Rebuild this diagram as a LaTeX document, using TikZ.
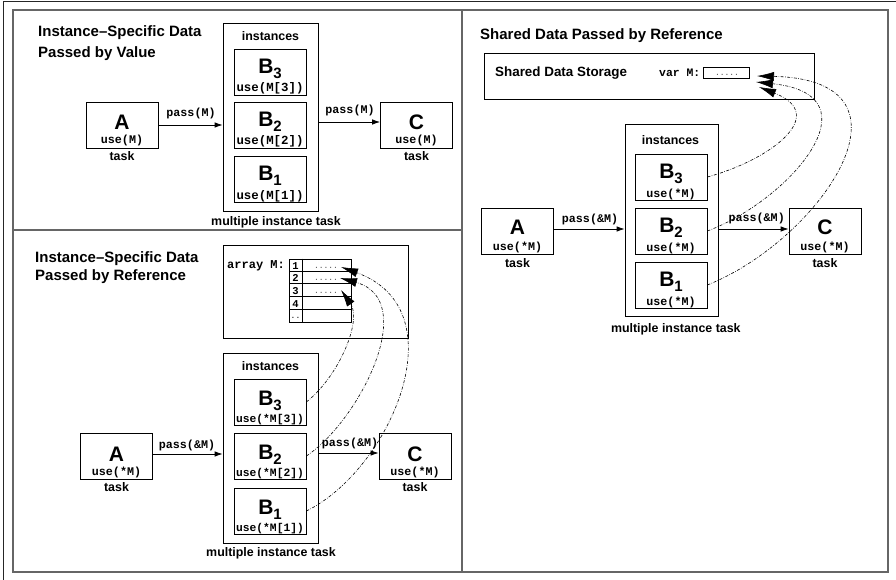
\documentclass[tikz,border=0pt]{standalone}
\usepackage{fontspec}
\setmainfont{Liberation Sans}
\newfontfamily\codefont{Liberation Mono}
\usetikzlibrary{arrows.meta,calc}
\tikzset{
  panel/.style={draw=black!60, line width=1.2pt},
  box/.style={draw, line width=0.8pt, inner sep=0pt, minimum width=72pt, minimum height=46pt},
  big/.style={font=\fontsize{21}{21}\selectfont\bfseries, inner sep=0pt, anchor=base},
  code/.style={font=\codefont\fontsize{11.7}{11.7}\selectfont\bfseries, inner sep=0pt, anchor=base},
  lbl/.style={font=\fontsize{12.4}{12.4}\selectfont\bfseries, inner sep=0pt, anchor=base},
  ttl/.style={font=\fontsize{15}{15}\selectfont\bfseries, inner sep=0pt, anchor=base west},
  arr/.style={-{Latex[length=8pt,width=5.5pt]}, line width=0.8pt},
  refarr/.style={-{Latex[length=17pt,width=9pt]}, line width=0.6pt, dash pattern=on 3pt off 1.5pt on 0.6pt off 1.5pt},
  dots/.style={font=\codefont\fontsize{8}{8}\selectfont, text=black!70, inner sep=0pt, anchor=base},
  cell/.style={font=\codefont\fontsize{10.5}{10.5}\selectfont\bfseries, inner sep=0pt, anchor=base},
}
\newcommand\Bsub[1]{B\raisebox{-5pt}{\fontsize{15}{15}\selectfont #1}}
\begin{document}
\begin{tikzpicture}[x=1pt,y=-1pt]
\useasboundingbox (0,0) rectangle (896,580);
% outer frame
\draw[black!85, line width=1.3pt] (3.5,580) -- (3.5,1.7) -- (896,1.7);
% panels
\draw[panel] (13,10) rectangle (888,572);
\draw[panel] (462,10) -- (462,572);
\draw[panel] (13,230) -- (462,230);

%================ top-left panel =================
\node[ttl] (t1a) at (38,37) {Instance--Specific Data};
\node[ttl] (t1b) at (38,58) {Passed by Value};
\node[box, minimum width=95pt, minimum height=188pt] (I1) at (270.5,117) {};
\node[lbl] (I1l) at (270.5,41) {instances};
\node[box] (B3a) at (270,72) {};
\node[box] (B2a) at (270,125) {};
\node[box] (B1a) at (270,179) {};
\node[big] (B3at) at (270,74) {\Bsub{3}};
\node[big] (B2at) at (270,127) {\Bsub{2}};
\node[big] (B1at) at (270,181) {\Bsub{1}};
\node[code, font=\codefont\fontsize{12.4}{12.4}\selectfont\bfseries] (B3au) at (270,92) {use(M[3])};
\node[code, font=\codefont\fontsize{12.4}{12.4}\selectfont\bfseries] (B2au) at (270,145) {use(M[2])};
\node[code, font=\codefont\fontsize{12.4}{12.4}\selectfont\bfseries] (B1au) at (270,199) {use(M[1])};
\node[box] (Aa) at (122,125) {};
\node[big] (Aat) at (122,130) {A};
\node[code] (Aau) at (122,144) {use(M)};
\node[lbl] (Aal) at (122,161) {task};
\node[box] (Ca) at (416.5,125) {};
\node[big] (Cat) at (416.5,130) {C};
\node[code] (Cau) at (416.5,144) {use(M)};
\node[lbl] (Cal) at (416.5,161) {task};
\node[lbl] (I1m) at (276,225) {multiple instance task};
\draw[arr] (Aa.east) -- (I1.west |- Aa.east);
\node[code] (p1) at (191,117) {pass(M)};
\draw[arr] ($(I1.east |- Ca.west)+(0,-3)$) -- ($(Ca.west)+(0,-3)$);
\node[code] (p2) at (350,114) {pass(M)};

%================ bottom-left panel =================
\node[ttl] (t2a) at (35,262) {Instance--Specific Data};
\node[ttl] (t2b) at (35,280) {Passed by Reference};
\node[box, minimum width=185pt, minimum height=93pt] (arrbox) at (315.5,291.5) {};
\node[code, font=\codefont\fontsize{12}{12}\selectfont\bfseries, anchor=base west] (arrl) at (227,268) {array M:};
\node[draw, line width=0.8pt, inner sep=0pt, minimum width=62pt, minimum height=63.3pt, anchor=north west] (tab) at (289,258.5) {};
\draw[line width=0.8pt] (302,258.5) -- (302,321.8);
\foreach \k in {1,2,3,4} { \draw[line width=0.8pt] (289,258.5+12.66*\k) -- (351,258.5+12.66*\k); }
\node[cell] (c1) at (295.5,269) {1};
\node[cell] (c2) at (295.5,281.7) {2};
\node[cell] (c3) at (295.5,294.3) {3};
\node[cell] (c4) at (295.5,307) {4};
\node[cell, font=\codefont\fontsize{8}{8}\selectfont] (c5) at (295.5,318) {..};
\node[dots] (d1) at (326,268) {.....};
\node[dots] (d2) at (326,280.7) {.....};
\node[dots] (d3) at (326,293.3) {.....};
\coordinate (r1) at (341,267);
\coordinate (r2) at (340,278);
\coordinate (r3) at (341,290);

\node[box, minimum width=95pt, minimum height=190pt] (I2) at (270.5,448) {};
\node[lbl] (I2l) at (270.5,370) {instances};
\node[box] (B3b) at (270,402) {};
\node[box] (B2b) at (270,456) {};
\node[box] (B1b) at (270,511) {};
\node[big] (B3bt) at (270,405) {\Bsub{3}};
\node[big] (B2bt) at (270,459) {\Bsub{2}};
\node[big] (B1bt) at (270,514) {\Bsub{1}};
\node[code, font=\codefont\fontsize{11.3}{11.3}\selectfont\bfseries] (B3bu) at (270,422) {use(*M[3])};
\node[code, font=\codefont\fontsize{11.3}{11.3}\selectfont\bfseries] (B2bu) at (270,476) {use(*M[2])};
\node[code, font=\codefont\fontsize{11.3}{11.3}\selectfont\bfseries] (B1bu) at (270,531) {use(*M[1])};
\node[box] (Ab) at (116.5,456) {};
\node[big] (Abt) at (116.5,461.5) {A};
\node[code] (Abu) at (116.5,475.5) {use(*M)};
\node[lbl] (Abl) at (116.5,491.7) {task};
\node[box] (Cb) at (415,456) {};
\node[big] (Cbt) at (415,461.5) {C};
\node[code] (Cbu) at (415,475.5) {use(*M)};
\node[lbl] (Cbl) at (415,491.7) {task};
\node[lbl] (I2m) at (271,556.7) {multiple instance task};
\draw[arr] ($(Ab.east)+(0,-2)$) -- ($(I2.west |- Ab.east)+(0,-2)$);
\node[code] (p3) at (187,448) {pass(\&M)};
\draw[arr] ($(I2.east |- Cb.west)+(0,-3)$) -- ($(Cb.west)+(0,-3)$);
\node[code] (p4) at (350,446.7) {pass(\&M)};
\draw[refarr] (B3b.east) .. controls (340,375) and (362,320) .. (r3);
\draw[refarr] (B2b.east) .. controls (360,420) and (420,300) .. (r2);
\draw[refarr] (B1b.east) .. controls (390,470) and (460,310) .. (r1);

%================ right panel =================
\node[ttl] (t3) at (480,39.3) {Shared Data Passed by Reference};
\node[box, minimum width=330pt, minimum height=46pt] (store) at (649,76) {};
\node[font=\fontsize{13.4}{13.4}\selectfont\bfseries, inner sep=0pt, anchor=base west] (storel) at (495,76.7) {Shared Data Storage};
\node[code, font=\codefont\fontsize{11.4}{11.4}\selectfont\bfseries, anchor=base west] (varl) at (659,76.7) {var M:};
\node[draw, line width=0.8pt, inner sep=0pt, minimum width=46pt, minimum height=11pt] (var) at (726,72.5) {};
\node[dots] (vd) at (727,75.5) {.....};
\coordinate (v1) at (757,76);
\coordinate (v2) at (756,82);
\coordinate (v3) at (759,87);

\node[box, minimum width=93pt, minimum height=192pt] (I3) at (671.5,220) {};
\node[lbl] (I3l) at (670.5,145) {instances};
\node[box] (B3c) at (671,177) {};
\node[box] (B2c) at (671,231) {};
\node[box] (B1c) at (671,285) {};
\node[big] (B3ct) at (671,178.5) {\Bsub{3}};
\node[big] (B2ct) at (671,232.5) {\Bsub{2}};
\node[big] (B1ct) at (671,286.5) {\Bsub{1}};
\node[code] (B3cu) at (671,197) {use(*M)};
\node[code] (B2cu) at (671,251) {use(*M)};
\node[code] (B1cu) at (671,305) {use(*M)};
\node[box] (Ac) at (517.5,231) {};
\node[big] (Act) at (517.5,234) {A};
\node[code] (Acu) at (517.5,250.7) {use(*M)};
\node[lbl] (Acl) at (517.5,267) {task};
\node[box] (Cc) at (825,231) {};
\node[big] (Cct) at (825,234) {C};
\node[code] (Ccu) at (825,250.7) {use(*M)};
\node[lbl] (Ccl) at (825,267) {task};
\node[lbl] (I3m) at (675.8,332.7) {multiple instance task};
\draw[arr] ($(Ac.east)+(0,-2)$) -- ($(I3.west |- Ac.east)+(0,-2)$);
\node[code] (p5) at (590,222.7) {pass(\&M)};
\draw[arr] ($(I3.east |- Cc.west)+(0,-2)$) -- ($(Cc.west)+(0,-2)$);
\node[code] (p6) at (756.7,221.7) {pass(\&M)};
\draw[refarr] (B3c.east) .. controls (770,160) and (830,115) .. (v3);
\draw[refarr] (B2c.east) .. controls (790,200) and (880,95) .. (v2);
\draw[refarr] (B1c.east) .. controls (820,240) and (930,80) .. (v1);
\end{tikzpicture}
\end{document}
